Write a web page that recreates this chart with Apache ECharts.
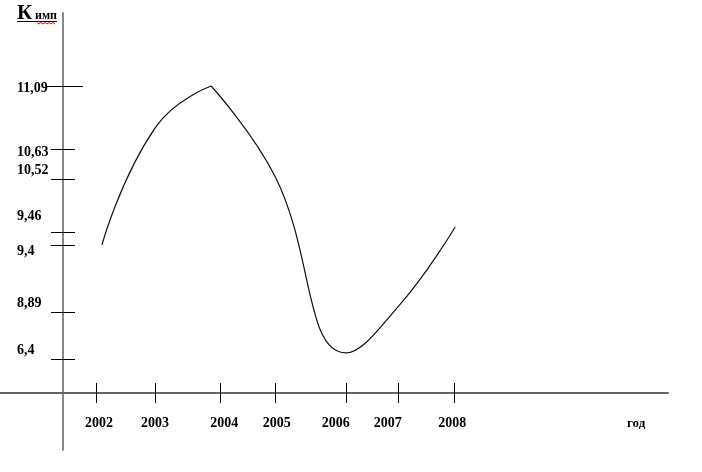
<!DOCTYPE html>
<html><head><meta charset="utf-8">
<script src="https://cdn.jsdelivr.net/npm/echarts@6/dist/echarts.min.js"></script>
<style>html,body{margin:0;padding:0;background:#fff}#c{width:702px;height:472px}</style>
</head><body><div id="c"></div>
<script>
// ---- data ----
const years = [2002, 2003, 2004, 2005, 2006, 2007, 2008];
const pointYears = [2002.1, 2003, 2003.93, 2005, 2006.19, 2007.1, 2008.02];
const kImp = [9.4, 10.79, 11.09, 10.53, 6.72, 8.95, 9.56];
const tickLabels = ['11,09', '10,63', '10,52', '9,46', '9,4', '8,89', '6,4'];
const tickValues = [11.09, 10.63, 10.52, 9.46, 9.4, 8.89, 6.4];
// schematic (non-linear) spacing of the hand-drawn value axis
const tickLevels = [307, 244, 214, 161, 148, 81, 34];
const labelLevels = [305, 241, 223, 177, 142, 90, 43];
const xTickYears = [2002, 2002.99, 2004.08, 2005, 2006.19, 2007.06, 2008];
const xLabelYears = [2002.05, 2002.99, 2004.15, 2005.03, 2006.02, 2006.89, 2007.97];

// piecewise mapping of a value onto the schematic axis
function toLevel(v) {
  const pairs = tickValues.map((t, i) => [t, tickLevels[i]]).sort((a, b) => a[0] - b[0]);
  let i = 0;
  while (i < pairs.length - 2 && v > pairs[i + 1][0]) i++;
  const [v0, l0] = pairs[i], [v1, l1] = pairs[i + 1];
  return l0 + (v - v0) / (v1 - v0) * (l1 - l0);
}
function nearest(arr, v) {
  let best = 0;
  arr.forEach((a, i) => { if (Math.abs(a - v) < Math.abs(arr[best] - v)) best = i; });
  return best;
}
const pts = pointYears.map((x, i) => [x, toLevel(kImp[i])]);

const FONT = 'Liberation Serif';
const chart = echarts.init(document.getElementById('c'), null, {renderer: 'canvas'});
const yBase = {type: 'value', min: -57, max: 380, position: 'left', offset: -63,
  splitLine: {show: false}, axisLine: {show: false, onZero: false}, axisLabel: {show: false}, axisTick: {show: false}};
const xBase = {type: 'value', min: 2000.391, max: 2011.587, position: 'bottom', offset: -57, splitLine: {show: false},
  axisLine: {show: false, onZero: false}, axisLabel: {show: false}, axisTick: {show: false}};

chart.setOption({
  animation: false,
  backgroundColor: '#fff',
  grid: {left: 0, right: 34, top: 13, bottom: 22, containLabel: false, outerBoundsMode: 'none'},
  xAxis: [
    Object.assign({}, xBase, {
      axisLine: {show: true, onZero: false, lineStyle: {color: '#666', width: 2}},
      axisTick: {show: true, customValues: xTickYears, length: 10, lineStyle: {color: '#000', width: 1}},
      axisLabel: {show: true, customValues: xLabelYears, margin: 23, fontFamily: FONT, fontWeight: 'bold',
        fontSize: 14, color: '#000', formatter: v => String(years[nearest(xLabelYears, v)])}
    }),
    Object.assign({}, xBase, {
      axisTick: {show: true, inside: true, customValues: xTickYears, length: 10, lineStyle: {color: '#000', width: 1}}
    })
  ],
  yAxis: [
    Object.assign({}, yBase, {
      axisLine: {show: true, onZero: false, lineStyle: {color: '#888', width: 2}},
      axisTick: {show: true, customValues: tickLevels, length: 12, lineStyle: {color: '#000', width: 1}},
      axisLabel: {show: true, customValues: labelLevels, margin: 46, align: 'left', fontFamily: FONT,
        fontWeight: 'bold', fontSize: 14, color: '#000', formatter: v => tickLabels[nearest(labelLevels, v)]}
    }),
    Object.assign({}, yBase, {
      axisTick: {show: true, inside: true, customValues: tickLevels, length: 12, lineStyle: {color: '#000', width: 1}}
    }),
    Object.assign({}, yBase, {
      axisTick: {show: true, customValues: [tickLevels[0]], length: 16, lineStyle: {color: '#000', width: 1}}
    }),
    Object.assign({}, yBase, {
      axisTick: {show: true, inside: true, customValues: [tickLevels[0]], length: 20, lineStyle: {color: '#000', width: 1}}
    })
  ],
  series: [
    {type: 'line', xAxisIndex: 0, yAxisIndex: 0, data: pts.slice(0, 3), smooth: 0.5, symbol: 'none',
      lineStyle: {color: '#111', width: 1.2}},
    {type: 'line', xAxisIndex: 0, yAxisIndex: 0, data: pts.slice(2), smooth: 0.45, symbol: 'none',
      lineStyle: {color: '#111', width: 1.2}}
  ],
  graphic: [
    {type: 'text', left: 17, top: 3, style: {text: 'К', font: 'bold 21px "Liberation Serif"', fill: '#000'}},
    {type: 'text', left: 35, top: 10, style: {text: 'имп', font: 'bold 12px "Liberation Serif"', fill: '#000'}},
    {type: 'line', shape: {x1: 17, y1: 21.5, x2: 57, y2: 21.5}, style: {stroke: '#000', lineWidth: 1}},
    {type: 'polyline', shape: {points: (function(){const p=[];for(let x=37;x<=56;x+=2)p.push([x,(x-37)%4===0?22.5:24]);return p;})()},
      style: {stroke: '#e00', lineWidth: 1, fill: null}},
    {type: 'text', left: 627, top: 417, style: {text: 'год', font: 'bold 13px "Liberation Serif"', fill: '#000'}}
  ]
});
</script></body></html>
